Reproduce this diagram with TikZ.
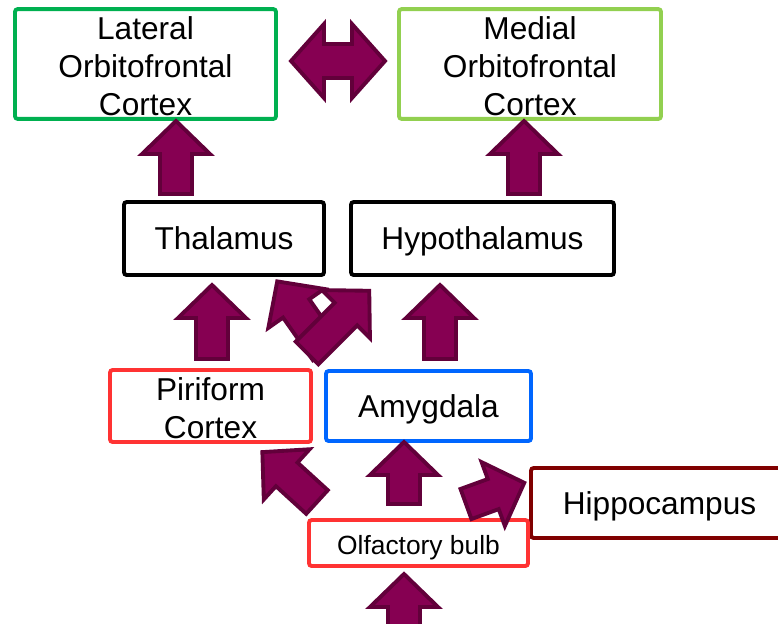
\documentclass[tikz,border=0pt]{standalone}
\usepackage{fontspec}
\setmainfont{Liberation Sans}
\usetikzlibrary{calc}
\definecolor{lofcgreen}{RGB}{0,176,80}
\definecolor{mofcgreen}{RGB}{146,208,80}
\definecolor{pirred}{RGB}{255,51,51}
\definecolor{amygblue}{RGB}{0,102,255}
\definecolor{hippored}{RGB}{128,0,0}
\definecolor{arrowfill}{RGB}{134,0,82}
\definecolor{arrowedge}{RGB}{98,0,58}

\begin{document}
\begin{tikzpicture}[x=0.02cm, y=0.02cm,
    box/.style={rectangle, draw, line width=2.2pt, rounded corners=1.5pt, fill=white,
                align=center, inner sep=0pt, font=\fontsize{18}{21.5}\selectfont,
                text height=15pt, text depth=2pt},
    twolines/.style={text height=39pt},
    threelines/.style={text height=60.5pt},
    fat/.style={fill=arrowfill, draw=arrowedge, line width=2.2pt, line join=miter},
    pics/fatarrow/.style={code={
        \draw[fat] (0,-16) -- ({#1-33},-16) -- ({#1-33},-34) -- (#1,0)
            -- ({#1-33},34) -- ({#1-33},16) -- (0,16) -- cycle;}}
]
\useasboundingbox (0,0) rectangle (778,-623);
\clip (0,0) rectangle (778,-623);

% boxes
\node[box, threelines, draw=lofcgreen, minimum width=5.22cm, minimum height=2.12cm] (lofc) at (145.5,-64) {Lateral\\Orbitofrontal\\Cortex};
\node[box, threelines, draw=mofcgreen, minimum width=5.24cm, minimum height=2.12cm] (mofc) at (530,-64) {Medial\\Orbitofrontal\\Cortex};
\node[box, minimum width=4.0cm, minimum height=1.46cm] (thal) at (224,-238.5) {Thalamus};
\node[box, minimum width=5.26cm, minimum height=1.46cm] (hypo) at (482.5,-238.5) {Hypothalamus};
\node[box, twolines, draw=pirred, minimum width=4.02cm, minimum height=1.4cm] (pir) at (210.5,-406) {Piriform\\Cortex};
\node[box, draw=amygblue, minimum width=4.1cm, minimum height=1.4cm] (amyg) at (428.5,-406) {Amygdala};
\node[box, draw=hippored, minimum width=5.14cm, minimum height=1.4cm] (hippo) at (659.5,-503) {Hippocampus};
\node[box, draw=pirred, minimum width=4.38cm, minimum height=0.92cm,
      font=\fontsize{15}{18}\selectfont, text height=13.8pt, text depth=1pt] (olf) at (418.5,-543) {Olfactory bulb};

% fat arrows
\draw[fat] (291,-61) -- (324,-24) -- (324,-44) -- (352,-44) -- (352,-24) -- (385,-61)
    -- (352,-98) -- (352,-78) -- (324,-78) -- (324,-98) -- cycle;
\pic[rotate=90] (thallofc) at (176,-194) {fatarrow=73};
\pic[rotate=90] (hypomofc) at (524,-194) {fatarrow=73};
\pic[rotate=90] (pirthal) at (212,-359) {fatarrow=74};
\pic[rotate=90] (amyghypo) at (440,-359) {fatarrow=74};
\pic[rotate=125] (amygthal) at (326,-351) {fatarrow=85};
\pic[rotate=45] (pirhypo) at (307,-353) {fatarrow=88};
\pic[rotate=137.6] (olfpir) at (317,-502) {fatarrow=74};
\pic[rotate=90] (olfamyg) at (404,-504) {fatarrow=62};
\pic[rotate=20] (olfhippo) at (466,-504) {fatarrow=62};
\pic[rotate=90] (inolf) at (404,-640) {fatarrow=66};
\end{tikzpicture}
\end{document}
